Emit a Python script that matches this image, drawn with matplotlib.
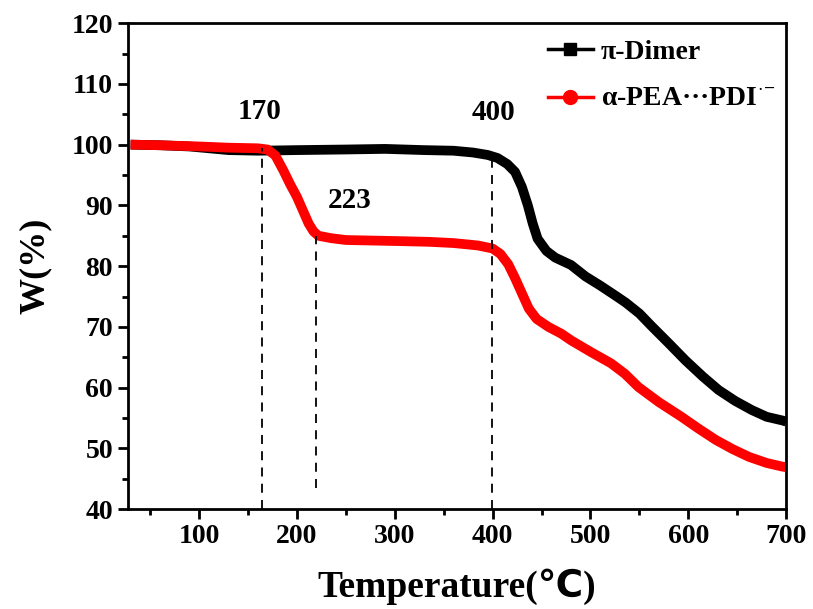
import matplotlib.pyplot as plt
from matplotlib.lines import Line2D
from matplotlib.ticker import MultipleLocator

plt.rcParams['font.family'] = ['Liberation Serif', 'DejaVu Sans']
plt.rcParams['font.weight'] = 'bold'
plt.rcParams['mathtext.fontset'] = 'custom'
plt.rcParams['mathtext.rm'] = 'Liberation Serif:bold'
plt.rcParams['mathtext.bf'] = 'Liberation Serif:bold'

# pi-Dimer TGA curve
dimer_t = [30, 60, 90, 110, 130, 160, 200, 250, 290, 330, 360, 380, 395, 405, 415,
           423, 430, 436, 441, 446, 455, 464, 480, 495, 510, 525, 536, 550, 562,
           580, 597, 615, 631, 648, 665, 680, 696, 700]
dimer_w = [100.0, 99.9, 99.7, 99.4, 99.1, 99.0, 99.1, 99.2, 99.3, 99.1, 99.0, 98.7,
           98.3, 97.8, 96.8, 95.5, 93.0, 90.0, 87.0, 84.5, 82.5, 81.4, 80.2, 78.3,
           76.8, 75.2, 74.0, 72.2, 70.2, 67.3, 64.5, 61.8, 59.6, 57.8, 56.3, 55.2,
           54.6, 54.4]

# a-PEA...PDI radical anion TGA curve
pea_t = [30, 60, 100, 130, 160, 170, 178, 186, 193, 200, 206, 212, 217, 222, 235,
         250, 280, 310, 335, 360, 385, 400, 408, 416, 423, 430, 437, 445, 457, 470,
         480, 500, 521, 535, 549, 570, 593, 610, 628, 645, 662, 680, 696, 700]
pea_w = [100.0, 99.9, 99.7, 99.5, 99.4, 99.2, 98.2, 95.8, 93.5, 91.4, 89.2, 87.0,
         85.7, 85.0, 84.6, 84.3, 84.2, 84.1, 84.0, 83.8, 83.4, 82.9, 82.0, 80.3,
         78.0, 75.5, 73.0, 71.3, 70.0, 68.9, 67.8, 65.9, 64.0, 62.3, 60.1, 57.6,
         55.2, 53.3, 51.4, 49.9, 48.6, 47.6, 47.0, 46.9]

# dashed guide lines: x, top, bottom
guide_x = [164, 219, 399]
guide_top = [99.5, 85.0, 98.5]
guide_bottom = [40, 43.5, 40]
labels = ["170", "223", "400"]
label_x = [162, 254, 401]
label_y = [103.3, 88.6, 103.0]

fig = plt.figure(figsize=(8.13, 6.09), dpi=100)
ax = fig.add_axes([0.157, 0.164, 0.81, 0.798])

ax.plot(dimer_t, dimer_w, color='black', lw=7, solid_capstyle='butt')
ax.plot(pea_t, pea_w, color='red', lw=7, solid_capstyle='butt')

for x, y0, y1 in zip(guide_x, guide_top, guide_bottom):
    ax.plot([x, x], [y1, y0], color='black', lw=1.3, ls=(0, (5, 4)))
for s, x, y in zip(labels, label_x, label_y):
    ax.text(x, y, s, ha='center', va='bottom', fontsize=21, fontweight='bold')

ax.set_xlim(27, 700)
ax.set_ylim(40, 120)
ax.xaxis.set_major_locator(MultipleLocator(100))
ax.xaxis.set_minor_locator(MultipleLocator(50))
ax.yaxis.set_major_locator(MultipleLocator(10))
ax.yaxis.set_minor_locator(MultipleLocator(5))
ax.tick_params(which='major', direction='out', length=7, width=2, labelsize=20)
ax.tick_params(which='minor', direction='out', length=4, width=2)
for sp in ax.spines.values():
    sp.set_linewidth(2)

ax.set_xlabel('Temperature(℃)', fontsize=27, fontweight='bold', labelpad=14)
ax.set_ylabel('W(%)', fontsize=26, fontweight='bold', labelpad=14)

handles = [Line2D([], [], color='black', lw=2.5, marker='s', markersize=8),
           Line2D([], [], color='red', lw=2.5, marker='o', markersize=10)]
ax.legend(handles, ['π-Dimer', r'α-PEA···PDI$^{\cdot\!-}$'], loc='upper right',
          bbox_to_anchor=(1.0, 0.99), frameon=False, handlelength=1.6,
          handletextpad=0.3, borderaxespad=0.0, labelspacing=0.8,
          prop={'weight': 'bold', 'size': 20})

fig.savefig('out.png', dpi=100)
